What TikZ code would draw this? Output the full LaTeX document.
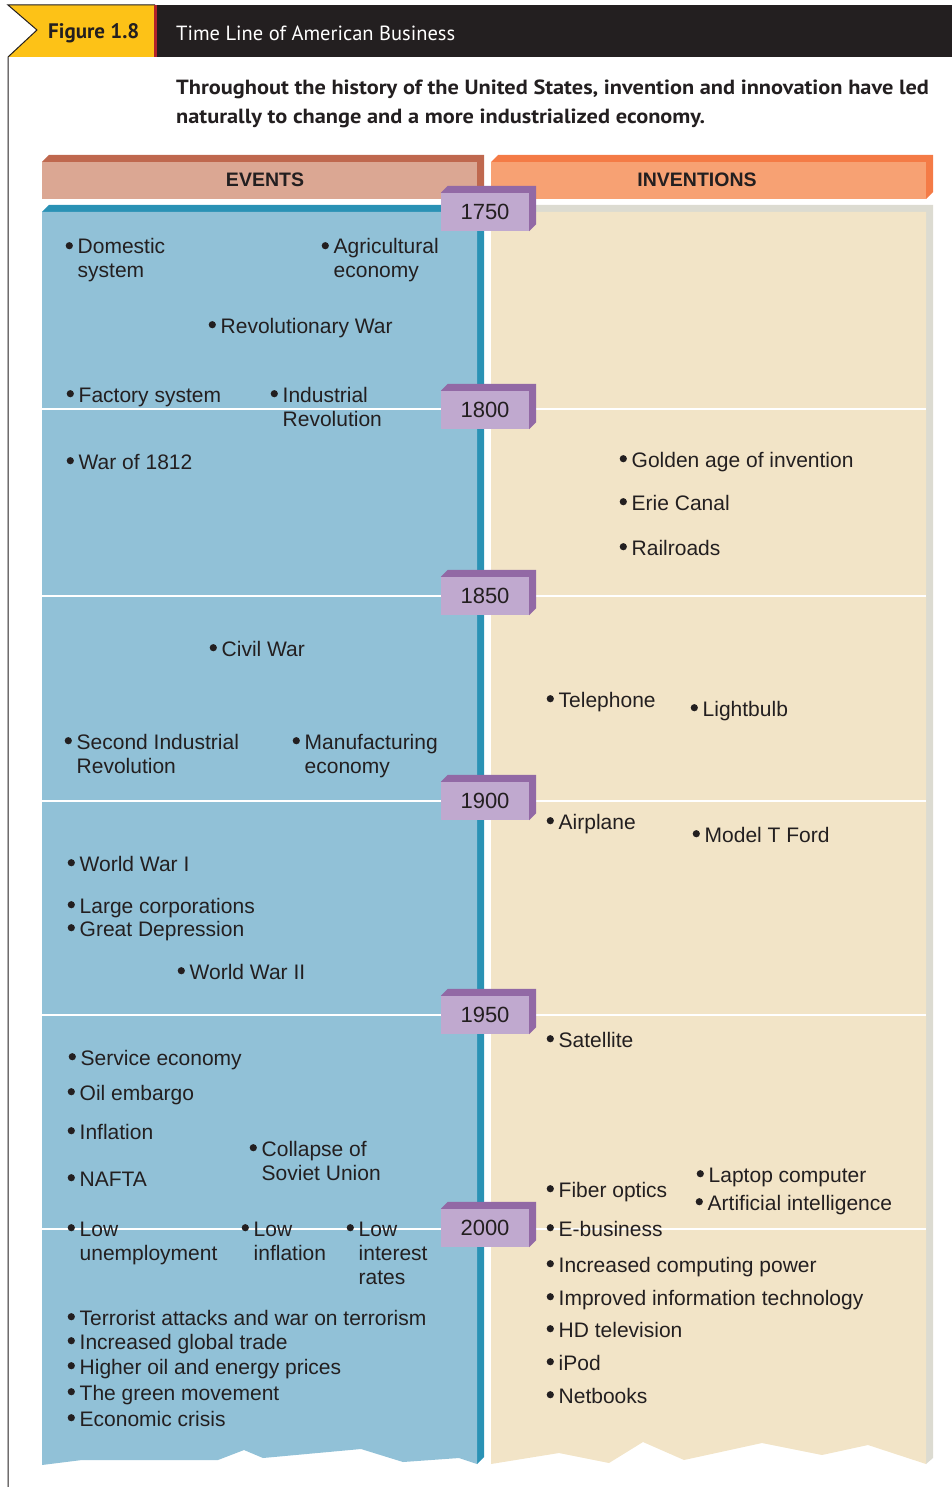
\documentclass[tikz,border=0pt]{standalone}
\usepackage{fontspec}
\setmainfont{Liberation Sans}
\newfontfamily\headfont{PT Sans}
\newfontfamily\introfont[FakeStretch=1.09]{PT Sans}
\usepackage{xcolor}
\usepackage{tikz}

\definecolor{ink}{HTML}{231F20}
\definecolor{figyellow}{HTML}{FDC217}
\definecolor{figred}{HTML}{B1232B}
\definecolor{evfront}{HTML}{DBA793}
\definecolor{evtop}{HTML}{BF684E}
\definecolor{infront}{HTML}{F7A173}
\definecolor{intop}{HTML}{F47B46}
\definecolor{evpanel}{HTML}{91C1D7}
\definecolor{evstrip}{HTML}{2A92B5}
\definecolor{inpanel}{HTML}{F2E4C7}
\definecolor{instrip}{HTML}{DCDBD1}
\definecolor{yearfront}{HTML}{C0A9CF}
\definecolor{yeartop}{HTML}{9269A5}

\newcommand{\itemfont}{\fontsize{21}{24}\selectfont}
\newcommand{\bu}{\makebox[12pt][l]{\raisebox{8.3pt}{\tikz[baseline=0pt]\fill[ink] (3.6pt,0pt) circle[radius=3.6pt];}}}
\newcommand{\ind}{\hspace*{12pt}}

\begin{document}
\begin{tikzpicture}[x=1pt, y=-1pt,
  item/.style={anchor=base west, inner sep=0pt, xshift=-12.5pt, align=left, text=ink, font=\itemfont},
  yearbox/.style={fill=yearfront, minimum width=88pt, minimum height=38pt, inner sep=0pt,
                  font=\fontsize{22}{24}\selectfont, text=ink},
  hdr/.style={inner sep=0pt, text=ink, font=\fontsize{19.5}{22}\selectfont\bfseries},
  rule/.style={draw=white, line width=1.6pt}]
  \useasboundingbox (0,0) rectangle (952,1487);
  % title bar
  \fill[ink] (155,5) rectangle (952,57);
  \fill[figyellow] (155,5) -- (8,5) -- (37,30) -- (8,57) -- (155,57) -- cycle;
  \draw[ink, line width=1pt] (155,5) -- (8,5) -- (37,30) -- (8,57) -- (8,1487);
  \fill[figred] (154,5) rectangle (157,57);
  \node[anchor=west, inner sep=0pt, text=ink, font=\headfont\fontsize{21}{24}\selectfont\bfseries] (fig) at (48,33) {Figure 1.8};
  \node[anchor=west, inner sep=0pt, text=white, font=\headfont\fontsize{20.5}{24}\selectfont] (ttl) at (176,33) {Time Line of American Business};
  % (base = last line)
  \node[anchor=base west, inner sep=0pt, align=left, text=ink, font=\introfont\fontsize{20.5}{29}\selectfont\bfseries] (intro) at (176,124)
    {Throughout the history of the United States, invention and innovation have led\\
     naturally to change and a more industrialized economy.};
  % column heads
  \fill[evtop] (42,162) -- (49,155) -- (484,155) -- (484,192) -- (477,199) -- (477,162) -- cycle;
  \fill[evfront] (42,162) rectangle (477,199);
  \fill[intop] (491,162) -- (498,155) -- (933,155) -- (933,192) -- (926,199) -- (926,162) -- cycle;
  \fill[infront] (491,162) rectangle (926,199);
  \node[hdr] (events) at (265,180) {EVENTS};
  \node[hdr] (inventions) at (697,180) {INVENTIONS};
  % panels
  \fill[evstrip] (42,212) -- (49,205) -- (484,205) -- (484,1457) -- (477,1464) -- (477,212) -- cycle;
  \fill[evpanel] (42,212) -- (477,212) -- (477,1464) -- (459,1458) -- (403,1462) -- (361,1449)
    -- (263,1458) -- (244,1450) -- (218,1460) -- (82,1460) -- (42,1465) -- cycle;
  \fill[instrip] (491,212) -- (491,205) -- (933,205) -- (933,1458) -- (926,1464) -- (926,212) -- cycle;
  \fill[inpanel] (491,212) -- (926,212) -- (926,1464) -- (868,1445) -- (822,1455) -- (762,1443)
    -- (684,1460) -- (643,1442) -- (609,1463) -- (559,1453) -- (491,1464) -- cycle;
  \foreach \yy in {409,596,801,1015,1229}
    \draw[rule] (42,\yy) -- (926,\yy);
  % years
  \foreach \yr/\yy in {1750/212,1800/410,1850/596,1900/801,1950/1015,2000/1228} {
    \node[yearbox] (y\yr) at (485,\yy) {\yr};
    \fill[yeartop] (y\yr.north west) -- ++(7,-7) -- ([shift={(7,-7)}]y\yr.north east)
      -- ([shift={(7,-7)}]y\yr.south east) -- (y\yr.south east) -- (y\yr.north east) -- cycle;
  }
  % events (multi-line items sit on their last baseline)
  \node[item] (domestic)   at (78,278)  {\bu Domestic\\\ind system};
  \node[item] (agri)       at (334,278) {\bu Agricultural\\\ind economy};
  \node[item] (revwar)     at (221,333) {\bu Revolutionary War};
  \node[item] (factory)    at (79,402)  {\bu Factory system};
  \node[item] (indrev)     at (283,426) {\bu Industrial\\\ind Revolution};
  \node[item] (war1812)    at (79,469)  {\bu War of 1812};
  \node[item] (civilwar)   at (222,656) {\bu Civil War};
  \node[item] (secondrev)  at (77,773)  {\bu Second Industrial\\\ind Revolution};
  \node[item] (manuf)      at (305,773) {\bu Manufacturing\\\ind economy};
  \node[item] (ww1)        at (80,871)  {\bu World War I};
  \node[item] (largecorp)  at (80,913)  {\bu Large corporations};
  \node[item] (depression) at (80,936)  {\bu Great Depression};
  \node[item] (ww2)        at (190,979) {\bu World War II};
  \node[item] (service)    at (81,1065) {\bu Service economy};
  \node[item] (oil)        at (80,1100) {\bu Oil embargo};
  \node[item] (inflation)  at (80,1139) {\bu Inflation};
  \node[item] (soviet)     at (262,1180) {\bu Collapse of\\\ind Soviet Union};
  \node[item] (nafta)      at (80,1186) {\bu NAFTA};
  \node[item] (lowunemp)   at (80,1260) {\bu Low\\\ind unemployment};
  \node[item] (lowinfl)    at (254,1260) {\bu Low\\\ind inflation};
  \node[item] (lowrates)   at (359,1284) {\bu Low\\\ind interest\\\ind rates};
  \node[item] (terror)     at (80,1325) {\bu Terrorist attacks and war on terrorism};
  \node[item] (trade)      at (80,1349) {\bu Increased global trade};
  \node[item] (energy)     at (80,1374) {\bu Higher oil and energy prices};
  \node[item] (green)      at (80,1400) {\bu The green movement};
  \node[item] (crisis)     at (80,1426) {\bu Economic crisis};
  % inventions
  \node[item] (golden)     at (632,467)  {\bu Golden age of invention};
  \node[item] (erie)       at (632,510)  {\bu Erie Canal};
  \node[item] (railroads)  at (632,555)  {\bu Railroads};
  \node[item] (telephone)  at (559,707)  {\bu Telephone};
  \node[item] (lightbulb)  at (703,716)  {\bu Lightbulb};
  \node[item] (airplane)   at (559,829)  {\bu Airplane};
  \node[item] (modelt)     at (705,842)  {\bu Model T Ford};
  \node[item] (satellite)  at (559,1047) {\bu Satellite};
  \node[item] (fiber)      at (559,1197) {\bu Fiber optics};
  \node[item] (laptop)     at (709,1182) {\bu Laptop computer};
  \node[item] (ai)         at (708,1210) {\bu Artificial intelligence};
  \node[item] (ebusiness)  at (559,1236) {\bu E-business};
  \node[item] (computing)  at (559,1272) {\bu Increased computing power};
  \node[item] (infotech)   at (559,1305) {\bu Improved information technology};
  \node[item] (hdtv)       at (559,1337) {\bu HD television};
  \node[item] (ipod)       at (559,1370) {\bu iPod};
  \node[item] (netbooks)   at (559,1403) {\bu Netbooks};
\end{tikzpicture}
\end{document}
